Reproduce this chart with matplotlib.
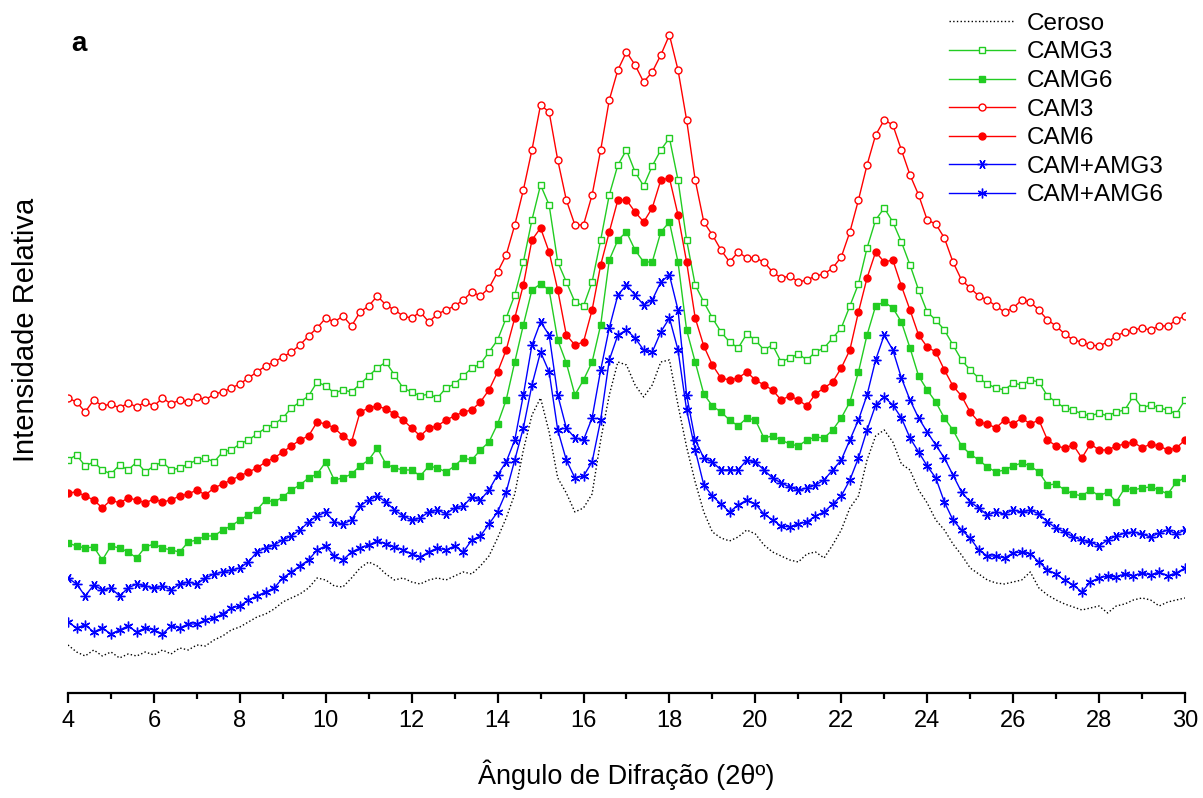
import matplotlib
matplotlib.use("Agg")
import matplotlib.pyplot as plt
import numpy as np
from matplotlib.ticker import MultipleLocator

# angulo 2theta, passo de 0.2 grau
angulo = np.linspace(4, 30, 131)

# intensidades (u.a.), curvas ja deslocadas verticalmente como no original
ceroso = [55, 48, 44, 50, 44, 48, 42, 46, 44, 48,
          45, 50, 46, 52, 50, 55, 54, 60, 64, 70,
          73, 78, 83, 86, 91, 98, 102, 106, 112, 122,
          120, 114, 113, 122, 132, 138, 134, 126, 120, 122,
          118, 116, 120, 122, 120, 124, 128, 126, 134, 144,
          162, 182, 206, 250, 285, 302, 268, 222, 207, 188,
          192, 206, 260, 305, 338, 335, 315, 303, 315, 338,
          340, 295, 253, 218, 188, 168, 162, 159, 163, 170,
          166, 155, 148, 144, 140, 138, 146, 148, 142, 155,
          170, 192, 204, 240, 264, 270, 258, 236, 230, 210,
          197, 180, 170, 156, 145, 132, 126, 120, 117, 116,
          118, 120, 128, 112, 105, 100, 96, 93, 90, 92,
          94, 87, 94, 96, 100, 102, 100, 94, 98, 100,
          102]

camg3 = [240, 245, 234, 238, 230, 226, 235, 230, 238, 228,
         234, 238, 230, 232, 236, 240, 242, 238, 248, 250,
         256, 260, 266, 272, 276, 282, 292, 298, 304, 318,
         314, 307, 310, 308, 316, 324, 332, 338, 325, 312,
         308, 304, 306, 302, 312, 316, 324, 332, 336, 348,
         360, 382, 405, 438, 480, 515, 495, 438, 418, 398,
         394, 418, 460, 505, 535, 550, 528, 514, 534, 550,
         562, 520, 460, 415, 398, 382, 368, 358, 352, 366,
         360, 350, 355, 338, 342, 346, 340, 348, 352, 362,
         372, 394, 416, 452, 480, 492, 478, 458, 435, 410,
         388, 380, 370, 355, 340, 330, 322, 316, 312, 310,
         317, 315, 320, 318, 304, 298, 292, 290, 286, 284,
         287, 284, 288, 290, 304, 292, 295, 292, 290, 286,
         300]

camg6 = [157, 154, 152, 153, 140, 154, 152, 148, 142, 153,
         156, 152, 150, 148, 158, 160, 164, 164, 170, 174,
         180, 185, 190, 200, 198, 203, 210, 215, 222, 226,
         238, 220, 222, 226, 234, 240, 252, 236, 232, 230,
         230, 224, 234, 232, 228, 234, 242, 240, 250, 258,
         276, 300, 338, 375, 410, 416, 410, 360, 337, 305,
         320, 338, 375, 440, 460, 468, 450, 438, 438, 468,
         478, 438, 370, 338, 306, 294, 288, 280, 274, 282,
         280, 262, 264, 260, 256, 254, 260, 263, 262, 270,
         282, 298, 328, 365, 394, 398, 392, 378, 352, 324,
         310, 298, 282, 270, 254, 246, 240, 233, 228, 230,
         234, 237, 234, 228, 215, 216, 210, 206, 204, 210,
         204, 208, 198, 212, 210, 212, 213, 210, 206, 218,
         222]

cam3 = [302, 298, 288, 300, 294, 296, 292, 297, 293, 298,
        294, 302, 296, 300, 298, 303, 300, 306, 308, 312,
        316, 322, 328, 334, 338, 343, 348, 355, 364, 372,
        382, 378, 384, 374, 388, 394, 404, 395, 390, 384,
        382, 388, 378, 386, 390, 394, 400, 408, 404, 412,
        428, 445, 475, 510, 550, 595, 588, 540, 500, 475,
        475, 505, 550, 600, 630, 648, 635, 618, 628, 645,
        665, 630, 580, 520, 478, 465, 450, 438, 448, 442,
        442, 438, 428, 422, 424, 418, 420, 424, 426, 432,
        443, 468, 500, 535, 565, 580, 575, 550, 525, 505,
        480, 476, 462, 438, 420, 412, 404, 400, 394, 388,
        392, 400, 398, 390, 380, 374, 366, 360, 358, 355,
        354, 358, 364, 368, 370, 372, 370, 374, 374, 380,
        384]

cam6 = [207, 208, 204, 200, 192, 200, 197, 202, 200, 197,
        201, 198, 200, 204, 206, 210, 205, 212, 216, 220,
        224, 228, 232, 238, 242, 248, 254, 260, 264, 278,
        276, 272, 264, 258, 288, 292, 294, 291, 286, 280,
        272, 264, 272, 274, 280, 284, 288, 290, 298, 310,
        328, 350, 382, 415, 460, 472, 448, 410, 365, 355,
        358, 390, 435, 468, 500, 500, 488, 478, 492, 520,
        522, 485, 438, 382, 354, 335, 322, 320, 322, 328,
        320, 315, 310, 300, 304, 300, 294, 306, 312, 318,
        332, 350, 388, 422, 448, 438, 440, 414, 390, 365,
        353, 348, 330, 314, 304, 288, 278, 276, 272, 280,
        276, 282, 276, 280, 260, 254, 252, 255, 242, 256,
        250, 250, 254, 256, 258, 252, 256, 254, 250, 252,
        260]

cam_amg3 = [122, 116, 104, 115, 110, 112, 104, 112, 116, 114,
            112, 114, 110, 116, 118, 116, 122, 126, 128, 130,
            132, 138, 148, 152, 155, 160, 164, 170, 178, 184,
            188, 178, 176, 180, 194, 200, 204, 198, 190, 184,
            180, 182, 188, 190, 186, 192, 194, 203, 200, 210,
            225, 238, 260, 305, 355, 378, 365, 305, 272, 262,
            260, 282, 330, 372, 405, 415, 405, 395, 400, 418,
            425, 390, 305, 260, 242, 238, 230, 230, 230, 240,
            238, 230, 222, 217, 213, 210, 212, 215, 220, 230,
            240, 260, 280, 305, 340, 365, 350, 322, 300, 282,
            268, 255, 242, 225, 208, 198, 192, 185, 188, 186,
            190, 188, 190, 186, 178, 172, 168, 163, 160, 158,
            154, 160, 164, 167, 168, 166, 163, 167, 170, 166,
            170]

cam_amg6 = [78, 72, 75, 68, 72, 66, 70, 74, 68, 72,
            70, 66, 74, 72, 76, 76, 80, 82, 86, 92,
            94, 100, 104, 108, 112, 122, 128, 134, 140, 150,
            154, 144, 140, 148, 152, 155, 159, 156, 153, 150,
            146, 143, 148, 152, 150, 154, 148, 160, 164, 176,
            188, 208, 240, 272, 315, 348, 328, 270, 240, 222,
            224, 238, 280, 340, 365, 370, 362, 350, 348, 368,
            382, 350, 290, 250, 215, 204, 196, 188, 195, 200,
            196, 186, 180, 174, 173, 176, 178, 184, 188, 196,
            204, 220, 242, 270, 295, 303, 295, 282, 262, 248,
            234, 222, 198, 180, 170, 162, 150, 144, 144, 142,
            147, 148, 146, 138, 130, 126, 120, 115, 108, 118,
            122, 124, 123, 126, 124, 127, 125, 128, 124, 127,
            132]

plt.rcParams['font.family'] = ['Liberation Sans', 'DejaVu Sans']

fig = plt.figure(figsize=(12.03, 7.98), dpi=100)
ax = fig.add_axes([0.0565, 0.1316, 0.9285, 0.8559])

verde = '#22cc22'
vermelho = '#ff0000'
azul = '#0000ff'

ax.plot(angulo, ceroso, color='black', linestyle=':', linewidth=1.0, label='Ceroso')
ax.plot(angulo, camg3, color=verde, linewidth=1.0, marker='s', markersize=4.5,
        markerfacecolor='white', markeredgewidth=1.0, label='CAMG3')
ax.plot(angulo, camg6, color=verde, linewidth=1.0, marker='s', markersize=4.5,
        label='CAMG6')
ax.plot(angulo, cam3, color=vermelho, linewidth=1.0, marker='o', markersize=5,
        markerfacecolor='white', markeredgewidth=1.0, label='CAM3')
ax.plot(angulo, cam6, color=vermelho, linewidth=1.0, marker='o', markersize=5,
        label='CAM6')
ax.plot(angulo, cam_amg3, color=azul, linewidth=1.0, marker=(6, 2, 90), markersize=7,
        markeredgewidth=1.0, label='CAM+AMG3')
ax.plot(angulo, cam_amg6, color=azul, linewidth=1.0, marker=(6, 2, 0), markersize=7,
        markeredgewidth=1.0, label='CAM+AMG6')

ax.set_xlim(4, 30)
ax.set_ylim(7, 690)

for lado in ['top', 'right', 'left']:
    ax.spines[lado].set_visible(False)
ax.spines['bottom'].set_linewidth(1.6)

ax.xaxis.set_major_locator(MultipleLocator(2))
ax.xaxis.set_minor_locator(MultipleLocator(1))
ax.tick_params(axis='x', which='major', length=7, width=1.6, labelsize=17, pad=5)
ax.tick_params(axis='x', which='minor', length=4.5, width=1.6)
ax.set_yticks([])

ax.set_xlabel('Ângulo de Difração (2θº)', fontsize=19.5, labelpad=20)
ax.set_ylabel('Intensidade Relativa', fontsize=21)
ax.yaxis.set_label_coords(-0.025, 0.531)

ax.text(0.003, 0.94, 'a', transform=ax.transAxes, fontsize=20, fontweight='bold')

ax.legend(loc='upper right', bbox_to_anchor=(0.99, 1.01), frameon=False,
          fontsize=17.5, handlelength=2.7, handletextpad=0.5, labelspacing=0.27,
          numpoints=1, borderaxespad=0)

fig.savefig('out.png', dpi=100)
